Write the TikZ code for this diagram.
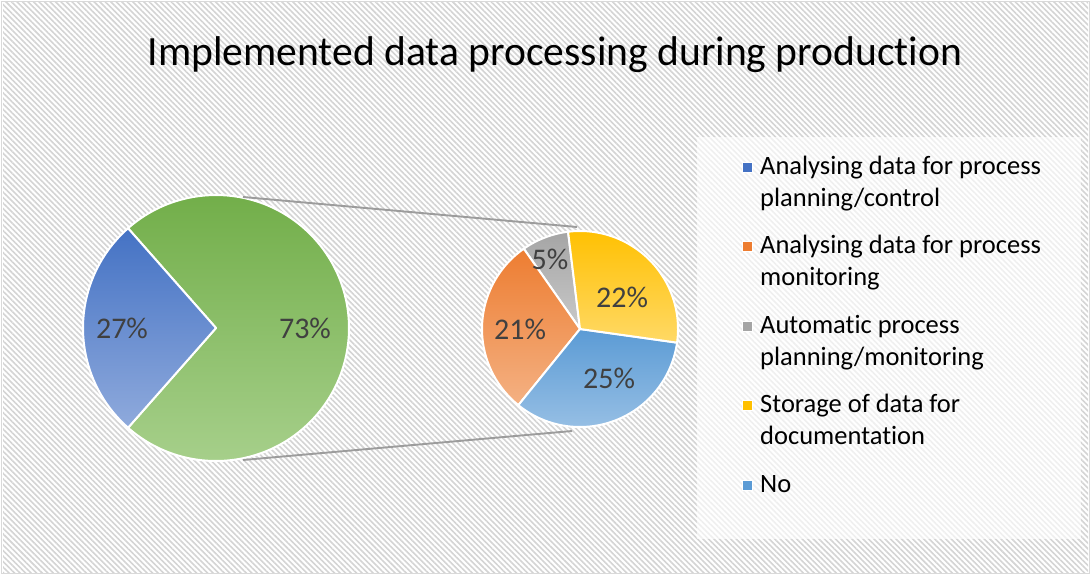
\documentclass[tikz,border=0pt]{standalone}
\usepackage{fontspec}
\setmainfont{Carlito}[Ligatures=NoCommon]
\usetikzlibrary{patterns.meta}
\definecolor{hatch}{HTML}{D4D4D4}
\definecolor{framegray}{HTML}{D9D9D9}
\definecolor{linegray}{HTML}{9C9C9C}
\definecolor{labgray}{HTML}{404040}
\definecolor{cBlueT}{HTML}{4472C4}\definecolor{cBlueB}{HTML}{8FAADC}
\definecolor{cGreenT}{HTML}{70AD47}\definecolor{cGreenB}{HTML}{A9D18E}
\definecolor{cOrT}{HTML}{ED7D31}\definecolor{cOrB}{HTML}{F4B183}
\definecolor{cGrT}{HTML}{A5A5A5}\definecolor{cGrB}{HTML}{C9C9C9}
\definecolor{cYeT}{HTML}{FFC000}\definecolor{cYeB}{HTML}{FFD966}
\definecolor{cLbT}{HTML}{5B9BD5}\definecolor{cLbB}{HTML}{9DC3E6}
\begin{document}
\begin{tikzpicture}[x=1pt,y=-1pt,
  slice/.style={draw=white,line width=2pt,line join=round},
  pct/.style={text=labgray,font=\fontsize{30}{36}\selectfont,inner sep=0pt},
  legsq/.style={minimum width=10pt,minimum height=10pt,inner sep=0pt,draw=white,line width=0.6pt},
  legtxt/.style={anchor=base west,align=left,inner sep=0pt,font=\fontsize{26.5}{31.7}\selectfont,text=black},
  connector/.style={draw=linegray,line width=1.9pt}]
\useasboundingbox (0,0) rectangle (1091,575);
\fill[white] (0,0) rectangle (1091,575);
\fill[pattern={Lines[angle=-45,distance=3.9pt,line width=1.6pt]},pattern color=hatch] (3,3) rectangle (1088,572);
\draw[framegray,line width=1.5pt] (1.5,1.5) rectangle (1089.5,573.5);

\node[font=\fontsize{41.6}{50}\selectfont,inner sep=0pt] (title) at (555,55) {Implemented data processing during production};

% left pie
\coordinate (c1) at (216,328);
\path[slice,top color=cGreenT,bottom color=cGreenB] (c1) -- ++(-131.4:133pt) arc[start angle=-131.4,end angle=131.4,radius=133pt] -- cycle;
\path[slice,top color=cBlueT,bottom color=cBlueB] (c1) -- ++(131.4:133pt) arc[start angle=131.4,end angle=228.6,radius=133pt] -- cycle;
\node[pct] (p27) at (122,328) {27\%};
\node[pct] (p73) at (305,328) {73\%};

% right pie
\coordinate (c2) at (580,329);
\path[slice,top color=cGrT,bottom color=cGrB] (c2) -- ++(97:98pt) arc[start angle=97,end angle=125,radius=98pt] -- cycle;
\path[slice,top color=cOrT,bottom color=cOrB] (c2) -- ++(125:98pt) arc[start angle=125,end angle=231,radius=98pt] -- cycle;
\path[slice,top color=cLbT,bottom color=cLbB] (c2) -- ++(231:98pt) arc[start angle=231,end angle=352,radius=98pt] -- cycle;
\path[slice,top color=cYeT,bottom color=cYeB] (c2) -- ++(-8:98pt) arc[start angle=-8,end angle=97,radius=98pt] -- cycle;
\node[pct] (p21) at (520,329) {21\%};
\node[pct] (p5) at (550,259) {5\%};
\node[pct] (p22) at (622,297) {22\%};
\node[pct] (p25) at (609,378) {25\%};

% connectors
\coordinate (a1) at (243,197);
\coordinate (b1) at (577,227);
\coordinate (a2) at (243,460);
\coordinate (b2) at (572,431);
\draw[connector] (a1) -- (b1);
\draw[connector] (a2) -- (b2);

% legend
\fill[white,opacity=0.65] (697,137) rectangle (1081,539);
\node[legsq,fill=cBlueT] (s1) at (747.5,167) {};
\node[legsq,fill=cOrT] (s2) at (747.5,246.5) {};
\node[legsq,fill=cGrT] (s3) at (747.5,326) {};
\node[legsq,fill=cYeT] (s4) at (747.5,405.5) {};
\node[legsq,fill=cLbT] (s5) at (747.5,485) {};
\node[legtxt] (l1) at (760,206) {Analysing data for process\\planning/control};
\node[legtxt] (l2) at (760,285.5) {Analysing data for process\\monitoring};
\node[legtxt] (l3) at (760,365) {Automatic process\\planning/monitoring};
\node[legtxt] (l4) at (760,444.5) {Storage of data for\\documentation};
\node[legtxt] (l5) at (760,492) {No};
\end{tikzpicture}
\end{document}
